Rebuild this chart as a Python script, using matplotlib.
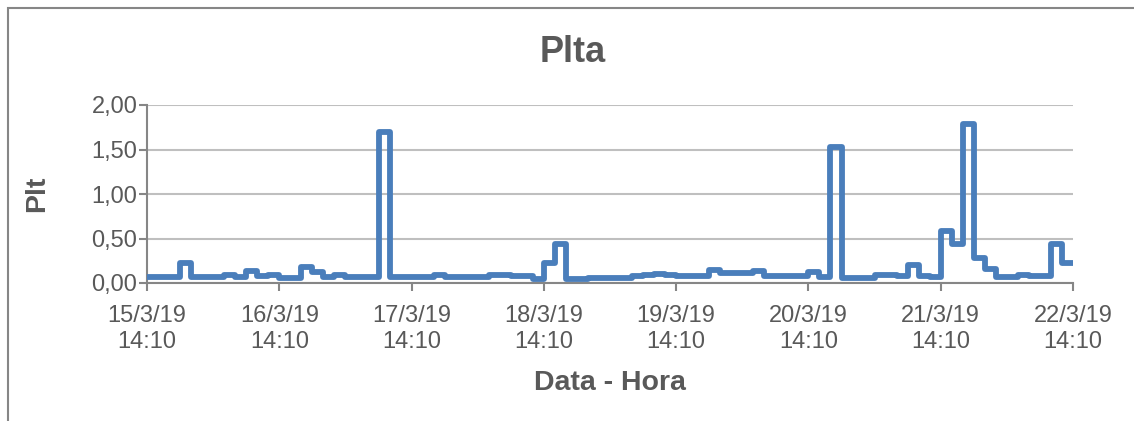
import matplotlib
matplotlib.use("Agg")
import matplotlib.pyplot as plt
import matplotlib.ticker as mticker
from matplotlib.patches import Rectangle
import pandas as pd

plt.rcParams['font.family'] = ['Liberation Sans', 'DejaVu Sans']

# Plt values, one per 2-hour window, starting 15/3/19 14:10
plt_values = [
    0.07, 0.07, 0.07, 0.23, 0.07, 0.07, 0.07, 0.09, 0.07, 0.135,
    0.08, 0.09, 0.06, 0.06, 0.185, 0.12, 0.07, 0.09, 0.07, 0.07,
    0.07, 1.70, 0.07, 0.07, 0.07, 0.07, 0.09, 0.065, 0.065, 0.065,
    0.065, 0.085, 0.085, 0.08, 0.08, 0.05, 0.22, 0.44, 0.04, 0.04,
    0.06, 0.06, 0.06, 0.06, 0.08, 0.09, 0.10, 0.09, 0.075, 0.075,
    0.075, 0.15, 0.11, 0.11, 0.11, 0.135, 0.08, 0.08, 0.08, 0.08,
    0.12, 0.07, 1.53, 0.055, 0.055, 0.055, 0.09, 0.09, 0.08, 0.20,
    0.08, 0.065, 0.58, 0.44, 1.79, 0.28, 0.16, 0.065, 0.065, 0.09,
    0.08, 0.08, 0.44, 0.23,
]
start = "2019-03-15 14:10"
tick_days = pd.date_range(start, periods=8, freq="D")
tick_labels = [d.strftime("%-d/%-m/%y\n%H:%M") for d in tick_days]
y_ticks = [0.0, 0.5, 1.0, 1.5, 2.0]

times = pd.date_range(start, periods=len(plt_values) + 1, freq="2h")
vals = plt_values + [plt_values[-1]]

fig = plt.figure(figsize=(11.34, 4.21), dpi=100)
ax = fig.add_axes([147 / 1134, 1 - 283 / 421, (1073 - 147) / 1134, (283 - 105) / 421])

# chart border
fig.patches.append(Rectangle((8 / 1134, -0.1), 1.2, 1 - 8 / 421 + 0.1,
                             transform=fig.transFigure, fill=False,
                             edgecolor="#868686", linewidth=1.5))

ax.plot(times, vals, drawstyle="steps-post", color="#4A7EBB", linewidth=4.2,
        solid_joinstyle="round", solid_capstyle="round", zorder=3)

ax.set_xlim(times[0], times[-1])
ax.set_ylim(0, 2.0)
ax.set_xticks(tick_days)
ax.set_xticklabels(tick_labels, linespacing=1.25)
ax.set_yticks(y_ticks)
ax.yaxis.set_major_formatter(mticker.FuncFormatter(lambda v, p: f"{v:.2f}".replace(".", ",")))

ax.grid(axis="y", color="#BFBFBF", linewidth=1.5)
ax.set_axisbelow(True)
for s in ["top", "right"]:
    ax.spines[s].set_visible(False)
for s in ["left", "bottom"]:
    ax.spines[s].set_color("#868686")
    ax.spines[s].set_linewidth(1.5)
ax.tick_params(axis="both", colors="#868686", labelcolor="#595959", labelsize=17,
               width=1.5, length=6)
ax.tick_params(axis="x", pad=10)
ax.tick_params(axis="y", pad=1)

ax.set_xlabel("Data - Hora", fontsize=20.5, fontweight="bold", color="#595959", labelpad=12)
ax.set_ylabel("Plt", fontsize=20.5, fontweight="bold", color="#595959", labelpad=30)
fig.text(573 / 1134, 1 - 53 / 421, "Plta", fontsize=26, fontweight="bold",
         color="#595959", ha="center", va="center")

fig.savefig("out.png", dpi=100)
